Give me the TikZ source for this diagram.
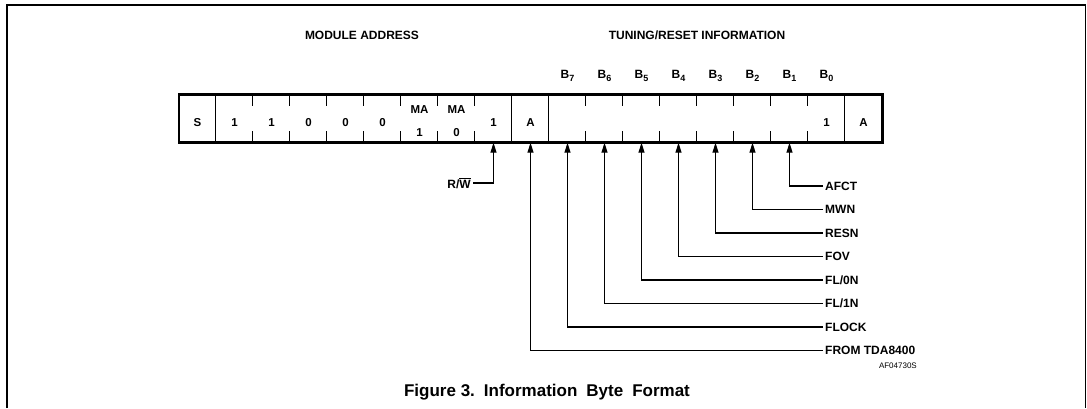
\documentclass[tikz,border=0pt]{standalone}
\usepackage{fontspec}
\setmainfont{Liberation Sans}
\usetikzlibrary{arrows.meta,positioning}

\tikzset{
  cell/.style={minimum width=37pt, minimum height=48pt, inner sep=0pt},
  bit/.style={font=\fontsize{11.5}{13}\selectfont\bfseries, inner sep=0pt},
  lbl/.style={font=\fontsize{12}{14}\selectfont\bfseries, inner sep=2pt},
  feed/.style={line width=1.3pt, -{Triangle[length=10pt,width=6pt]}},
}

\begin{document}
\begin{tikzpicture}[x=1pt,y=-1pt]
\useasboundingbox (0,0) rectangle (1087,408);
\draw[line width=1.2pt] (7,408) -- (7,5) -- (1085.5,5) -- (1085.5,408);

% register cells
\foreach \i in {0,...,18}
  \node[cell] (c\i) at (197.5+37*\i,118.5) {};
\draw[line width=2.6pt] (c0.north west) rectangle (c18.south east);
\foreach \k in {1,9,10,18}
  \draw[line width=1.2pt] (c\k.north west) -- (c\k.south west);
\foreach \k in {2,...,8,11,12,...,17} {
  \draw[line width=1.2pt] (c\k.north west) -- ++(0,12);
  \draw[line width=1.2pt] (c\k.south west) -- ++(0,-12);
}

% cell contents
\foreach \i/\txt in {0/S,1/1,2/1,3/0,4/0,5/0,8/1,9/A,17/1,18/A}
  \node[bit] (t\i) at ([yshift=-4pt]c\i.center) {\txt};
\foreach \i/\txt in {6/1,7/0} {
  \node[bit] (m\i) at ([yshift=8.5pt]c\i.center) {MA};
  \node[bit] (t\i) at ([yshift=-14pt]c\i.center) {\txt};
}

% headings
\node[lbl] (modaddr) at (362,35) {MODULE ADDRESS};
\node[lbl] (tuning) at (697,35) {TUNING/RESET INFORMATION};
\foreach \n [evaluate=\n as \i using int(17-\n)] in {0,...,7}
  \node[lbl] (b\n) at (c\i |- 0,76) {B\raisebox{-3pt}{\fontsize{9}{10}\selectfont\n}};

% signal names
\foreach \name/\i/\y in {AFCT/16/186, MWN/15/209.5, RESN/14/233, FOV/13/256.5,
  {FL/0N}/12/280, {FL/1N}/11/303.5, FLOCK/10/327, {FROM TDA8400}/9/350.5} {
  \node[lbl, anchor=west] (l\i) at (823,\y) {\name};
  \draw[feed] (l\i.west) -| (c\i.south);
}
\node[lbl, anchor=east] (rw) at (473,183) {R/$\overline{\hbox{W}}$};
\draw[feed] (rw.east) -| (c8.south);

\node[font=\fontsize{8}{9}\selectfont, anchor=east, inner sep=0pt] (code) at (917,366) {AF04730S};
\node[font=\fontsize{17}{19}\selectfont\bfseries] (caption) at (547,392)
  {Figure 3.\hspace{9pt}Information\hspace{9pt}Byte\hspace{9pt}Format};
\end{tikzpicture}
\end{document}
